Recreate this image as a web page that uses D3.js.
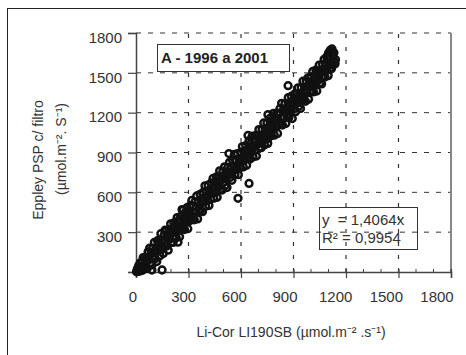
<!DOCTYPE html>
<html>
<head>
<meta charset="utf-8">
<script src="https://cdn.jsdelivr.net/npm/d3@7"></script>
<style>
  body { margin: 0; background: #fff; }
  svg { display: block; font-family: "Liberation Sans", Arial, sans-serif; }
</style>
</head>
<body>
<div id="chart"></div>
<script>
// Li-Cor LI190SB readings (x) vs Eppley PSP c/ filtro readings (y)
const licor = [
  3, 6, 8, 12, 15, 20, 24, 28, 33, 37, 41, 46, 50, 55, 60, 64, 69, 73, 78, 82,
  87, 91, 96, 100, 105, 110, 114, 119, 123, 128, 133, 137, 142, 147, 151, 156, 160, 165, 170, 174,
  179, 184, 188, 193, 198, 202, 207, 212, 216, 221, 226, 230, 235, 240, 244, 249, 254, 258, 263, 268,
  272, 277, 282, 286, 291, 296, 300, 305, 310, 314, 319, 324, 328, 333, 338, 342, 347, 352, 356, 361,
  366, 370, 375, 380, 384, 389, 394, 398, 403, 408, 412, 417, 422, 426, 431, 436, 440, 445, 450, 454,
  459, 464, 468, 473, 478, 482, 487, 492, 496, 501, 506, 510, 515, 520, 524, 529, 534, 538, 543, 548,
  552, 557, 562, 566, 571, 576, 580, 585, 590, 594, 599, 604, 608, 613, 618, 622, 627, 632, 636, 641,
  646, 650, 655, 660, 664, 669, 674, 678, 683, 688, 692, 697, 702, 706, 711, 716, 720, 725, 730, 734,
  739, 744, 748, 753, 758, 762, 767, 772, 776, 781, 786, 790, 795, 800, 804, 809, 814, 818, 823, 828,
  832, 837, 842, 846, 851, 856, 860, 865, 870, 874, 879, 884, 888, 893, 898, 902, 907, 912, 916, 921,
  926, 930, 935, 940, 944, 949, 954, 958, 963, 968, 972, 977, 982, 986, 991, 996, 1000, 1005, 1010, 1014,
  1019, 1024, 1028, 1033, 1038, 1042, 1047, 1052, 1056, 1061, 1066, 1070, 1075, 1080, 1084, 1089, 1094, 1098, 1103, 1108,
  1112, 1117, 1122, 1126, 1131, 1136, 1100, 1110, 1120, 1125, 1090, 1140,
  20, 38, 56, 74, 92, 110, 128, 146, 164, 182, 200, 218, 236, 254, 272, 290, 308, 326, 344, 362,
  380, 398, 416, 434, 452, 470, 488, 506, 524, 542, 560, 578, 596, 614, 632, 650, 668, 686, 704, 722,
  740, 758, 776, 794, 812, 830, 848, 866, 884, 902, 920, 938, 956, 974, 992, 1010, 1028, 1046, 1064, 1082,
  1100, 1118,
  91, 149, 240, 269, 166, 583, 646, 531, 754, 754, 1137, 1006, 937, 869, 640
];
const eppley = [
  2, 10, 24, 4, 46, 13, 69, 9, 66, 14, 108, 40, 110, 27, 99, 27, 152, 90, 180, 70,
  147, 53, 180, 111, 223, 100, 170, 79, 236, 160, 225, 123, 288, 172, 232, 139, 275, 219, 309, 195,
  282, 164, 319, 246, 363, 224, 306, 223, 369, 273, 353, 258, 410, 323, 388, 265, 417, 333, 470, 327,
  403, 320, 447, 382, 484, 326, 452, 384, 501, 432, 539, 396, 496, 393, 530, 451, 573, 400, 526, 468,
  585, 465, 542, 454, 600, 527, 649, 495, 607, 539, 654, 501, 614, 549, 671, 598, 704, 556, 668, 598,
  716, 563, 703, 640, 762, 623, 700, 617, 758, 675, 792, 652, 754, 636, 787, 729, 826, 712, 789, 691,
  841, 763, 885, 736, 838, 775, 891, 733, 850, 785, 902, 839, 945, 792, 909, 845, 952, 804, 919, 856,
  989, 849, 966, 908, 1024, 866, 978, 914, 1026, 873, 1023, 965, 1072, 938, 1020, 937, 1073, 990, 1122, 957,
  1074, 1021, 1122, 969, 1091, 1027, 1159, 1026, 1131, 1083, 1195, 1031, 1148, 1090, 1196, 1043, 1195, 1130, 1232, 1114,
  1270, 1107, 1219, 1160, 1267, 1119, 1230, 1172, 1314, 1164, 1276, 1228, 1324, 1156, 1293, 1229, 1341, 1208, 1338, 1275,
  1387, 1248, 1340, 1232, 1388, 1305, 1437, 1297, 1369, 1286, 1437, 1349, 1461, 1302, 1429, 1356, 1471, 1398, 1510, 1356,
  1463, 1405, 1521, 1363, 1505, 1445, 1558, 1425, 1510, 1417, 1564, 1475, 1602, 1469, 1565, 1517, 1614, 1479, 1601, 1533,
  1664, 1531, 1653, 1599, 1651, 1578, 1650, 1670, 1680, 1640, 1620, 1600,
  33, 45, 89, 99, 141, 145, 186, 193, 240, 250, 293, 298, 337, 345, 393, 402, 445, 448, 491, 497,
  544, 555, 597, 601, 642, 649, 696, 706, 749, 752, 793, 801, 848, 858, 901, 905, 946, 953, 1000, 1010,
  1053, 1056, 1097, 1105, 1152, 1161, 1205, 1209, 1248, 1257, 1304, 1314, 1357, 1360, 1401, 1408, 1456, 1465, 1508, 1513,
  1554, 1562,
  15, 15, 225, 465, 315, 555, 667, 892, 1005, 1185, 1567, 1365, 1275, 1403, 1028
];

const xTicks = [0, 300, 600, 900, 1200, 1500, 1800];
const yTicks = [300, 600, 900, 1200, 1500, 1800];
const xTitle = "Li-Cor LI190SB (µmol.m⁻² .s⁻¹)";
const yTitle = ["Eppley PSP c/ filtro", "(µmol.m⁻². S⁻¹)"];
const periodLabel = "A - 1996 a 2001";
const fitLabels = ["y  = 1,4064x", "R² = 0,9954"];

const W = 466, H = 355;
const margin = { top: 33, right: 15, bottom: 83, left: 136 };
const width = W - margin.left - margin.right,
      height = H - margin.top - margin.bottom;

const svg = d3.select("#chart").append("svg")
    .attr("width", W)
    .attr("height", H);

// outer frame (cropped at right and bottom in the original)
svg.append("rect")
    .attr("x", 7.5).attr("y", 8.5)
    .attr("width", W + 10).attr("height", H + 10)
    .attr("fill", "none")
    .attr("stroke", "#222")
    .attr("stroke-width", 1);

const g = svg.append("g")
    .attr("transform", `translate(${margin.left}, ${margin.top})`);

const x = d3.scaleLinear().domain([0, 1800]).range([0, width]);
const y = d3.scaleLinear().domain([0, 1800]).range([height, 0]);
// tick labels sit on a slightly narrower scale in the original
const xLab = d3.scaleLinear().domain([0, 1800]).range([-3, width - 14]);

// grid
g.append("g")
    .selectAll("line")
    .data(yTicks)
    .join("line")
    .attr("x1", 0).attr("x2", width)
    .attr("y1", d => y(d)).attr("y2", d => y(d))
    .attr("stroke", "#333")
    .attr("stroke-width", 1)
    .attr("stroke-dasharray", "5,7");

g.append("g")
    .selectAll("line")
    .data(xTicks.slice(1, -1))
    .join("line")
    .attr("x1", d => x(d)).attr("x2", d => x(d))
    .attr("y1", height).attr("y2", 0)
    .attr("stroke", "#333")
    .attr("stroke-width", 1.2)
    .attr("stroke-dasharray", "4,9");

// right border
g.append("line")
    .attr("x1", width).attr("x2", width)
    .attr("y1", 0).attr("y2", height)
    .attr("stroke", "#888")
    .attr("stroke-width", 2);

// y axis
const yAxis = g.append("g")
    .call(d3.axisLeft(y).tickValues([0].concat(yTicks)).tickSize(8).tickFormat(d => d === 0 ? "" : d));
yAxis.select(".domain").attr("stroke", "#444").attr("stroke-width", 1.5);
yAxis.selectAll(".tick line").attr("stroke", "#444").attr("stroke-width", 1.2);
yAxis.selectAll(".tick text")
    .attr("x", -14)
    .attr("dy", "0.62em")
    .style("font-size", "15px")
    .attr("fill", "#333");

// x axis: minor ticks upward, major ticks crossing
g.append("g")
    .attr("transform", `translate(0, ${height})`)
    .selectAll("line")
    .data(d3.range(0, 1801, 100))
    .join("line")
    .attr("x1", d => x(d)).attr("x2", d => x(d))
    .attr("y1", 0).attr("y2", -3)
    .attr("stroke", "#444");

const xAxis = g.append("g")
    .attr("transform", `translate(0, ${height})`)
    .call(d3.axisBottom(x).tickValues(xTicks).tickSize(6).tickFormat(""));
xAxis.select(".domain").attr("stroke", "#444").attr("stroke-width", 1.5);
xAxis.selectAll(".tick line").attr("stroke", "#444").attr("stroke-width", 1.2).attr("y1", -3);

g.append("g")
    .selectAll("text")
    .data(xTicks)
    .join("text")
    .attr("x", d => xLab(d))
    .attr("y", height + 30)
    .attr("text-anchor", "middle")
    .style("font-size", "15px")
    .attr("fill", "#333")
    .text(d => d);

// points
g.append("g")
    .selectAll("circle")
    .data(licor.map((v, i) => [v, eppley[i]]))
    .join("circle")
    .attr("cx", d => x(d[0]))
    .attr("cy", d => y(d[1]))
    .attr("r", 3.4)
    .attr("fill", "none")
    .attr("stroke", "#111")
    .attr("stroke-width", 2.5);

// period label box
g.append("rect")
    .attr("x", 21.5).attr("y", 11.5)
    .attr("width", 132).attr("height", 27)
    .attr("fill", "#fff")
    .attr("stroke", "#333");
g.append("text")
    .attr("x", 25).attr("y", 30)
    .style("font-size", "15px")
    .style("font-weight", "bold")
    .attr("fill", "#222")
    .text(periodLabel);

// regression box
g.append("rect")
    .attr("x", 183.5).attr("y", 174.5)
    .attr("width", 98).attr("height", 42)
    .attr("fill", "none")
    .attr("stroke", "#333");
g.append("g")
    .selectAll("text")
    .data(fitLabels)
    .join("text")
    .attr("x", 186)
    .attr("y", (d, i) => 192 + i * 18)
    .attr("xml:space", "preserve")
    .style("font-size", "15px")
    .attr("fill", "#333")
    .text(d => d);

// axis titles
svg.append("text")
    .attr("x", 291).attr("y", 337)
    .attr("text-anchor", "middle")
    .style("font-size", "14px")
    .attr("fill", "#333")
    .text(xTitle);

svg.append("text")
    .attr("transform", "translate(43, 160) rotate(-90)")
    .attr("text-anchor", "middle")
    .style("font-size", "14px")
    .attr("fill", "#333")
    .text(yTitle[0]);
svg.append("text")
    .attr("transform", "translate(66, 149) rotate(-90)")
    .attr("text-anchor", "middle")
    .style("font-size", "14px")
    .attr("fill", "#333")
    .text(yTitle[1]);
</script>
</body>
</html>
